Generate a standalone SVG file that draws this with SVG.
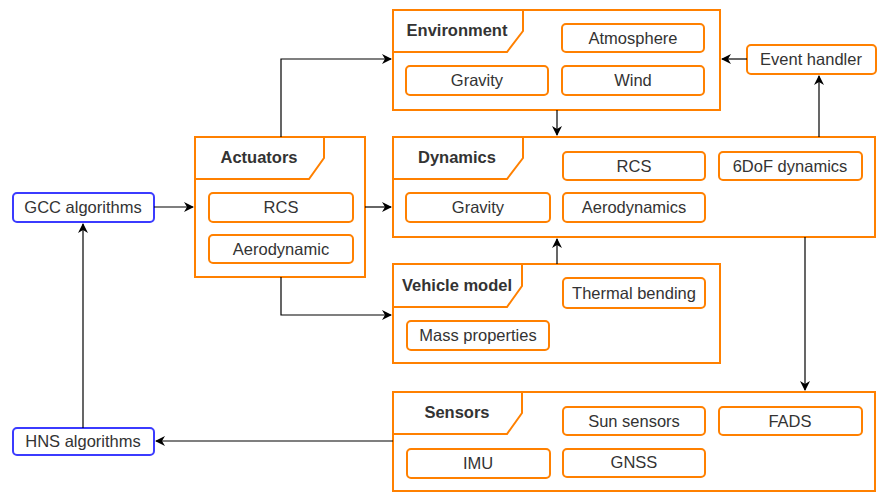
<svg xmlns="http://www.w3.org/2000/svg" width="878" height="492" viewBox="0 0 878 492">
<defs>
<marker id="ah" viewBox="0 0 10 10" refX="9" refY="5" markerWidth="10" markerHeight="10" markerUnits="userSpaceOnUse" orient="auto">
<path d="M0,0 L10,5 L0,10 L3,5 Z" fill="#000"/>
</marker>
<style>
.frame{fill:#fff;stroke:#FF8000;stroke-width:2}
.tab{fill:none;stroke:#FF8000;stroke-width:2}
.box{fill:#fff;stroke:#FF8000;stroke-width:2}
.blue{fill:#fff;stroke:#3B3BFF;stroke-width:2}
.t{font-family:"Liberation Sans",Arial,sans-serif;font-size:16.5px;fill:#333;text-anchor:middle}
.h{font-family:"Liberation Sans",Arial,sans-serif;font-size:16.5px;font-weight:bold;fill:#333;text-anchor:middle}
.c{fill:none;stroke:#000;stroke-width:1.2}
</style>
</defs>
<rect width="878" height="492" fill="#fff"/>

<g id="environment">
<rect class="frame" x="393" y="10" width="327" height="100"/>
<path class="tab" d="M523,10 V31 L507,52 H393"/>
<text class="h" x="457" y="36">Environment</text>
<rect class="box" x="562" y="24" width="142" height="28" rx="4"/>
<text class="t" x="633" y="44">Atmosphere</text>
<rect class="box" x="406" y="66" width="142" height="29" rx="4"/>
<text class="t" x="477" y="86">Gravity</text>
<rect class="box" x="562" y="66" width="142" height="29" rx="4"/>
<text class="t" x="633" y="86">Wind</text>
</g>

<g id="actuators">
<rect class="frame" x="195" y="137" width="170" height="140"/>
<path class="tab" d="M324,137 V158 L309,179 H195"/>
<text class="h" x="259" y="163">Actuators</text>
<rect class="box" x="209" y="193" width="144" height="29" rx="4"/>
<text class="t" x="281" y="213">RCS</text>
<rect class="box" x="209" y="235" width="144" height="28" rx="4"/>
<text class="t" x="281" y="255">Aerodynamic</text>
</g>

<g id="dynamics">
<rect class="frame" x="393" y="137" width="482" height="100"/>
<path class="tab" d="M523,137 V158 L507,179 H393"/>
<text class="h" x="457" y="163">Dynamics</text>
<rect class="box" x="563" y="152" width="142" height="28" rx="4"/>
<text class="t" x="634" y="172">RCS</text>
<rect class="box" x="719" y="152" width="143" height="28" rx="4"/>
<text class="t" x="790" y="172">6DoF dynamics</text>
<rect class="box" x="406" y="193" width="144" height="29" rx="4"/>
<text class="t" x="478" y="213">Gravity</text>
<rect class="box" x="563" y="193" width="142" height="29" rx="4"/>
<text class="t" x="634" y="213">Aerodynamics</text>
</g>

<g id="vehicle-model">
<rect class="frame" x="393" y="264" width="327" height="99"/>
<path class="tab" d="M522,264 V286 L507,307 H393"/>
<text class="h" x="457" y="291">Vehicle model</text>
<rect class="box" x="563" y="278" width="142" height="30" rx="4"/>
<text class="t" x="634" y="299">Thermal bending</text>
<rect class="box" x="407" y="321" width="142" height="29" rx="4"/>
<text class="t" x="478" y="341">Mass properties</text>
</g>

<g id="sensors">
<rect class="frame" x="393" y="392" width="482" height="99"/>
<path class="tab" d="M522,392 V413 L507,434 H393"/>
<text class="h" x="457" y="418">Sensors</text>
<rect class="box" x="563" y="407" width="142" height="28" rx="4"/>
<text class="t" x="634" y="427">Sun sensors</text>
<rect class="box" x="719" y="407" width="143" height="28" rx="4"/>
<text class="t" x="790" y="427">FADS</text>
<rect class="box" x="407" y="449" width="143" height="29" rx="4"/>
<text class="t" x="478" y="469">IMU</text>
<rect class="box" x="563" y="449" width="142" height="28" rx="4"/>
<text class="t" x="634" y="468">GNSS</text>
</g>

<g id="event-handler">
<rect class="box" x="747" y="45" width="129" height="29" rx="4"/>
<text class="t" x="811" y="65">Event handler</text>
</g>

<g id="gcc">
<rect class="blue" x="13" y="193" width="141" height="29" rx="4"/>
<text class="t" x="83" y="213">GCC algorithms</text>
</g>

<g id="hns">
<rect class="blue" x="13" y="428" width="141" height="27" rx="4"/>
<text class="t" x="83" y="447">HNS algorithms</text>
</g>

<g id="connectors">
<path class="c" d="M154,207 H193" marker-end="url(#ah)"/>
<path class="c" d="M281,137 V59 H391" marker-end="url(#ah)"/>
<path class="c" d="M365,207 H391" marker-end="url(#ah)"/>
<path class="c" d="M281,277 V315 H391" marker-end="url(#ah)"/>
<path class="c" d="M557,110 V135" marker-end="url(#ah)"/>
<path class="c" d="M557,264 V239" marker-end="url(#ah)"/>
<path class="c" d="M819,137 V76" marker-end="url(#ah)"/>
<path class="c" d="M747,59 H722" marker-end="url(#ah)"/>
<path class="c" d="M805,237 V390" marker-end="url(#ah)"/>
<path class="c" d="M393,441 H156" marker-end="url(#ah)"/>
<path class="c" d="M83,428 V224" marker-end="url(#ah)"/>
</g>
</svg>
